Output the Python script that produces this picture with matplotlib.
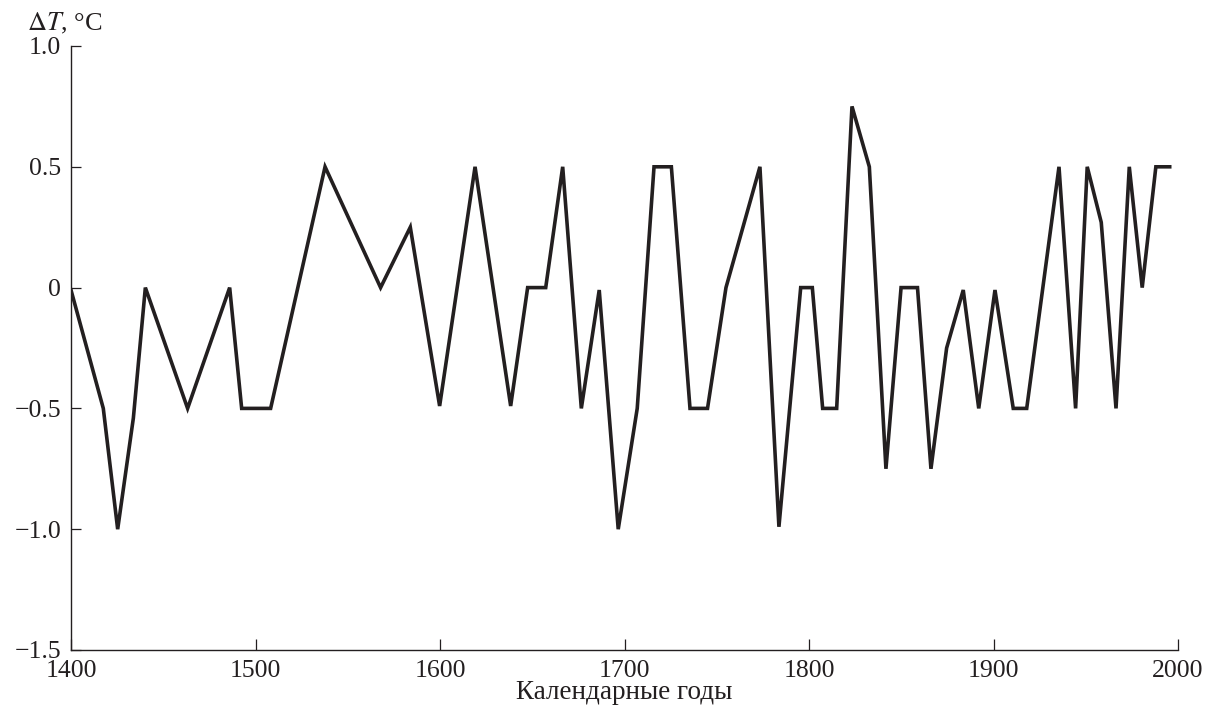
import matplotlib
matplotlib.use("Agg")
import matplotlib.pyplot as plt
from matplotlib.ticker import FixedLocator

years = [1400, 1417.5, 1425.3, 1433.8, 1440.3, 1463.2, 1486, 1492.5, 1508.2, 1537.7,
         1567.8, 1583.9, 1599.8, 1619, 1638.3, 1647.5, 1657.3, 1666.5, 1676.6, 1686.3,
         1696.6, 1706.9, 1716, 1725.4, 1735.5, 1745, 1755, 1773.4, 1783.7, 1795.5,
         1801.8, 1807.4, 1815, 1823.3, 1832.7, 1841.7, 1849.9, 1858.8, 1866.1, 1874.6,
         1883.6, 1892, 1900.8, 1910.7, 1918, 1935.5, 1944.5, 1950.8, 1958.4, 1966.4,
         1973.6, 1980.6, 1988, 1995.5]
dT = [-0.01, -0.5, -1.0, -0.54, 0.0, -0.5, 0.0, -0.5, -0.5, 0.5,
      0.0, 0.25, -0.49, 0.5, -0.49, 0.0, 0.0, 0.5, -0.5, -0.01,
      -1.0, -0.5, 0.5, 0.5, -0.5, -0.5, 0.0, 0.5, -0.99, 0.0,
      0.0, -0.5, -0.5, 0.75, 0.5, -0.75, 0.0, 0.0, -0.75, -0.25,
      -0.01, -0.5, -0.01, -0.5, -0.5, 0.5, -0.5, 0.5, 0.27, -0.5,
      0.5, 0.0, 0.5, 0.5]

xticks = [1400, 1500, 1600, 1700, 1800, 1900, 2000]
yticks = [-1.5, -1.0, -0.5, 0, 0.5, 1.0]
ylabels = ["\u22121.5", "\u22121.0", "\u22120.5", "0", "0.5", "1.0"]

plt.rcParams['font.family'] = ['Liberation Serif', 'DejaVu Serif']
plt.rcParams['mathtext.fontset'] = 'stix'

fig = plt.figure(figsize=(12.16, 7.11), dpi=100)
ax = fig.add_axes([71/1216, 1 - 650/711, (1178-71)/1216, (650-46)/711])

ax.plot(years, dT, color='#231f20', lw=2.6, solid_joinstyle='miter')

ax.set_xlim(1400, 2000)
ax.set_ylim(-1.5, 1.0)
ax.xaxis.set_major_locator(FixedLocator(xticks))
ax.yaxis.set_major_locator(FixedLocator(yticks))
ax.set_yticklabels(ylabels)
ax.spines['top'].set_visible(False)
ax.spines['right'].set_visible(False)
for s in ('left', 'bottom'):
    ax.spines[s].set_linewidth(1.0)
    ax.spines[s].set_color('#231f20')
ax.tick_params(axis='x', direction='in', length=8, width=0.9, labelsize=18.5, pad=7, colors='#231f20')
ax.tick_params(axis='y', direction='in', length=7, width=0.9, labelsize=18.5, pad=7, colors='#231f20')

ax.set_xlabel("Календарные годы", fontsize=19.5, labelpad=-1, color='#231f20')
fig.text(27/1216, 1 - 23/711, r'$\Delta T$, °C', fontsize=19, ha='left', va='center', color='#231f20')

fig.savefig("out.png", dpi=100)
